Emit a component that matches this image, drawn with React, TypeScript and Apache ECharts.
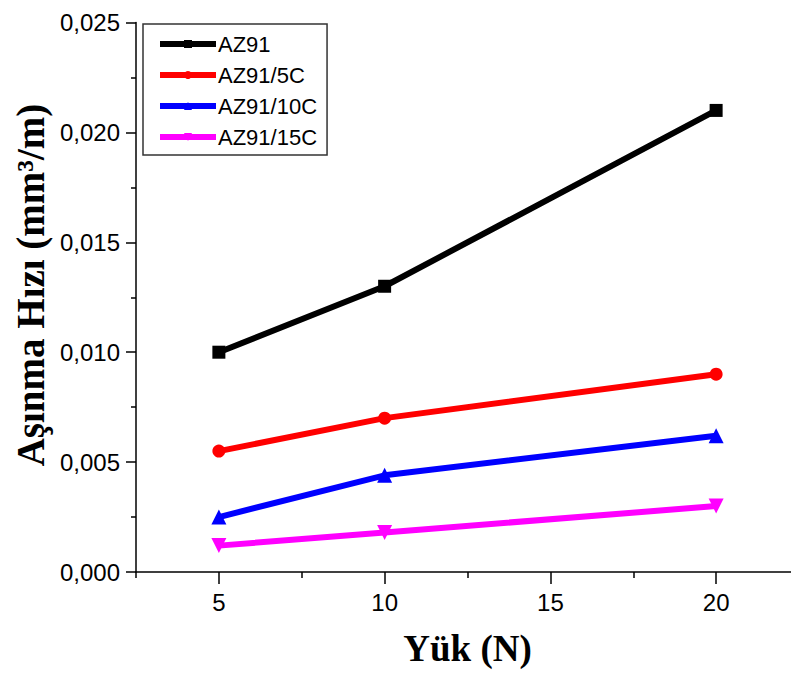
import React, { useEffect, useRef } from "react";
import * as echarts from "echarts";

const loads = [5, 10, 20];
const az91 = [0.01, 0.013, 0.021];
const az91_5c = [0.0055, 0.007, 0.009];
const az91_10c = [0.0025, 0.0044, 0.0062];
const az91_15c = [0.0012, 0.0018, 0.003];
const seriesNames = ["AZ91", "AZ91/5C", "AZ91/10C", "AZ91/15C"];
const xMajor = [5, 10, 15, 20];

const pairs = (ys: number[]) => loads.map((x, i) => [x, ys[i]]);

export default function App() {
  const ref = useRef<HTMLDivElement>(null);
  useEffect(() => {
    document.body.style.margin = "0";
    document.body.style.overflow = "hidden";
    const chart = echarts.init(ref.current!, null, { renderer: "svg" });
    const tickFont = { fontFamily: "Liberation Sans, Arial, sans-serif", fontSize: 24, color: "#000" };
    const mk = (name: string, data: number[], color: string, symbol: string, size: number, rotate = 0) => ({
      name,
      type: "line",
      data: pairs(data),
      symbol,
      symbolSize: size,
      symbolRotate: rotate,
      lineStyle: { color, width: 6 },
      itemStyle: { color },
      color,
    });
    chart.setOption({
      animation: false,
      backgroundColor: "#fff",
      grid: { left: 136, top: 22.5, width: 663, height: 549.5 },
      legend: {
        left: 143,
        top: 24,
        orient: "vertical",
        data: seriesNames,
        borderColor: "#333",
        borderWidth: 1.5,
        padding: [9, 10, 7, 14],
        itemWidth: 56,
        itemHeight: 10,
        itemGap: 9,
        lineStyle: { width: 6 },
        textStyle: { fontFamily: "Liberation Sans, Arial, sans-serif", fontSize: 22, color: "#000", padding: [0, 0, 0, -3] },
      },
      graphic: [
        {
          type: "text",
          x: 30,
          y: 285,
          rotation: Math.PI / 2,
          style: {
            text: "Aşınma Hızı (mm³/m)",
            fontFamily: "Liberation Serif, Times New Roman, serif",
            fontWeight: "bold",
            fontSize: 39,
            fill: "#000",
            align: "center",
            verticalAlign: "middle",
          },
        },
      ],
      xAxis: [
        {
          type: "value",
          min: 2.5,
          max: 22.5,
          name: "Yük (N)",
          nameLocation: "middle",
          nameGap: 58,
          nameTextStyle: { fontFamily: "Liberation Serif, Times New Roman, serif", fontWeight: "bold", fontSize: 37, color: "#000" },
          axisLine: { lineStyle: { color: "#000", width: 1.5 } },
          axisTick: { show: true, inside: false, length: 12, customValues: xMajor, lineStyle: { color: "#000", width: 1.5 } },
          axisLabel: { ...tickFont, margin: 18, customValues: xMajor },
          splitLine: { show: false },
        },
        {
          type: "value",
          min: 2.5,
          max: 22.5,
          interval: 5,
          position: "bottom",
          axisLine: { show: false },
          axisTick: { show: true, length: 6, lineStyle: { color: "#000", width: 1.5 } },
          axisLabel: { show: false },
          splitLine: { show: false },
        },
      ],
      yAxis: {
        type: "value",
        min: 0,
        max: 0.025,
        interval: 0.005,
        axisLine: { show: true, lineStyle: { color: "#000", width: 1.5 } },
        axisTick: { show: true, inside: false, length: 10, lineStyle: { color: "#000", width: 1.5 } },
        minorTick: { show: true, splitNumber: 2, length: 5, lineStyle: { color: "#000", width: 1.5 } },
        axisLabel: { ...tickFont, margin: 16, formatter: (v: number) => v.toFixed(3).replace(".", ",") },
        splitLine: { show: false },
      },
      series: [
        mk(seriesNames[0], az91, "#000000", "rect", 13),
        mk(seriesNames[1], az91_5c, "#ff0000", "circle", 13),
        mk(seriesNames[2], az91_10c, "#0000ff", "triangle", 15),
        mk(seriesNames[3], az91_15c, "#ff00ff", "triangle", 15, 180),
      ],
    });
    return () => chart.dispose();
  }, []);
  return (
    <div style={{ width: 791, height: 674, overflow: "hidden" }}>
      <div ref={ref} style={{ width: 820, height: 674 }} />
    </div>
  );
}
